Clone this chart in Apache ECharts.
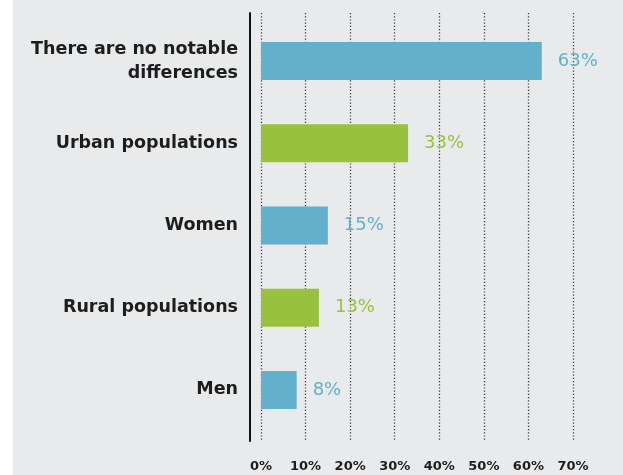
<!DOCTYPE html>
<html>
<head>
<meta charset="utf-8">
<script src="https://cdn.jsdelivr.net/npm/echarts@6/dist/echarts.min.js"></script>
<style>
  html, body { margin: 0; padding: 0; }
  body {
    width: 623px; height: 475px;
    background: linear-gradient(to right, #ffffff 0, #ffffff 13px, #e9eaeb 13px, #e9eaeb 100%);
  }
  #chart { width: 623px; height: 475px; }
</style>
</head>
<body>
<div id="chart"></div>
<script>
// Answers, top to bottom
const categories = [
  'There are no notable\ndifferences',
  'Urban populations',
  'Women',
  'Rural populations',
  'Men'
];
// Share of respondents (%)
const values = [63, 33, 15, 13, 8];
// Axis ticks (%)
const tickValues = [0, 10, 20, 30, 40, 50, 60, 70];

const BLUE = '#62b0cb';
const GREEN = '#97c23d';
const barColors = [BLUE, GREEN, BLUE, GREEN, BLUE];

const chart = echarts.init(document.getElementById('chart'), null, { renderer: 'canvas' });

const plotLeft = 261;
const plotRight = 50;
const axisMin = tickValues[0];
const axisMax = tickValues[tickValues.length - 1];
const step = tickValues[1] - tickValues[0];
const FONT = 'DejaVu Sans';

chart.setOption({
  animation: false,
  grid: [
    // bars
    { left: plotLeft, right: plotRight, top: 20, bottom: 44, containLabel: false },
    // frame: dotted verticals, tick labels, left rule
    { left: plotLeft, right: plotRight, top: 13, bottom: 34, containLabel: false }
  ],
  xAxis: [
    {
      gridIndex: 0, type: 'value', min: axisMin, max: axisMax, interval: step,
      show: false
    },
    {
      gridIndex: 1, type: 'value', min: axisMin, max: axisMax, interval: step,
      axisLine: { show: false },
      axisTick: { show: false },
      axisLabel: {
        formatter: '{value}%',
        margin: 19,
        color: '#1d1d1d',
        fontFamily: FONT,
        fontWeight: 'bold',
        fontSize: 13
      },
      splitLine: {
        show: true,
        lineStyle: { color: '#3c3c3c', width: 1.3, type: [1.2, 2] }
      }
    }
  ],
  yAxis: [
    {
      gridIndex: 0, type: 'category', data: categories, inverse: true,
      axisLine: { show: false },
      axisTick: { show: false },
      splitLine: { show: false },
      axisLabel: {
        margin: 23,
        color: '#1d1d1d',
        fontFamily: FONT,
        fontWeight: 'bold',
        fontSize: 17.5,
        lineHeight: 24,
        align: 'right'
      }
    },
    {
      gridIndex: 1, type: 'value', min: 0, max: 1,
      offset: 11,
      axisLine: { show: true, onZero: false, lineStyle: { color: '#111111', width: 2 } },
      axisTick: { show: false },
      axisLabel: { show: false },
      splitLine: { show: false }
    }
  ],
  series: [
    {
      type: 'bar',
      xAxisIndex: 0,
      yAxisIndex: 0,
      barWidth: 38,
      data: values.map((v, i) => ({
        value: v,
        itemStyle: { color: barColors[i] },
        label: { color: barColors[i] }
      })),
      label: {
        show: true,
        position: 'right',
        distance: 16,
        formatter: '{c}%',
        fontFamily: FONT,
        fontWeight: 400,
        fontSize: 18
      }
    }
  ]
});
</script>
</body>
</html>
